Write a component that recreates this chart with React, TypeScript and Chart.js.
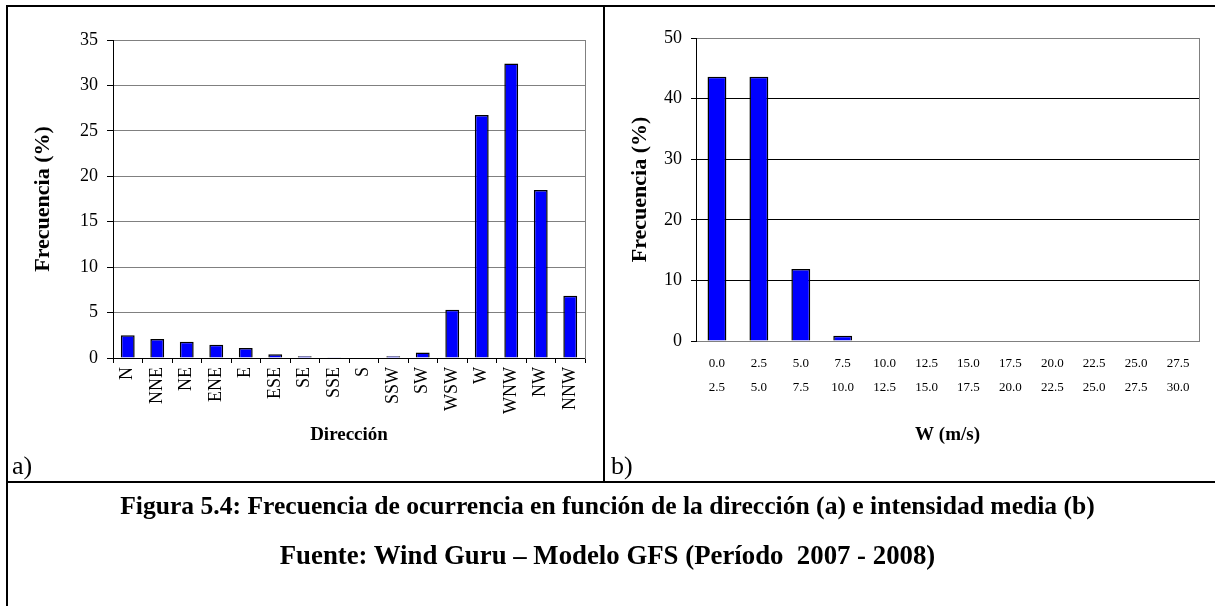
import React, { useEffect, useRef } from "react";
import { Chart, registerables } from "chart.js";

Chart.register(...registerables);

const FONT = "'Liberation Serif', 'Times New Roman', Times, serif";

// Panel a) — frequency by direction
const directions = ["N", "NNE", "NE", "ENE", "E", "ESE", "SE", "SSE", "S", "SSW", "SW", "WSW", "W", "WNW", "NW", "NNW"];
const directionFreq = [2.5, 2.1, 1.8, 1.45, 1.1, 0.4, 0.2, 0.02, 0.0, 0.2, 0.6, 5.3, 26.75, 32.4, 18.5, 6.85];
const directionTicks = [0, 5, 10, 15, 20, 25, 30, 35];

// Panel b) — frequency by mean intensity (speed bins)
const speedBinStart = ["0.0", "2.5", "5.0", "7.5", "10.0", "12.5", "15.0", "17.5", "20.0", "22.5", "25.0", "27.5"];
const speedBinEnd = ["2.5", "5.0", "7.5", "10.0", "12.5", "15.0", "17.5", "20.0", "22.5", "25.0", "27.5", "30.0"];
const speedFreq = [43.6, 43.6, 11.9, 0.87, 0, 0, 0, 0, 0, 0, 0, 0];
const speedTicks = [0, 10, 20, 30, 40, 50];

const BAR_BLUE = "#0000FF";

function makeLeftConfig(): any {
  return {
    type: "bar",
    data: {
      labels: directions,
      datasets: [
        {
          data: directionFreq,
          backgroundColor: BAR_BLUE,
          borderColor: "#000000",
          borderWidth: 1.5,
          barPercentage: 0.47,
          categoryPercentage: 1,
        },
      ],
    },
    options: {
      animation: false,
      responsive: false,
      maintainAspectRatio: false,
      layout: { padding: { left: 0, right: 18, top: 40, bottom: 0 } },
      plugins: { legend: { display: false }, tooltip: { enabled: false } },
      scales: {
        x: {
          offset: true,
          grid: { display: true, drawOnChartArea: false, drawTicks: true, tickLength: 5, color: "#000", offset: true },
          border: { display: true, color: "#000", width: 1 },
          ticks: {
            autoSkip: false,
            minRotation: 90,
            maxRotation: 90,
            padding: 4,
            color: "#000",
            font: { family: FONT, size: 18 },
          },
          title: {
            display: true,
            text: "Dirección",
            color: "#000",
            font: { family: FONT, size: 19, weight: "bold" },
            padding: { top: 0, bottom: 34 },
          },
          afterFit: (s: any) => {
            s.height = 122;
          },
        },
        y: {
          min: 0,
          max: directionTicks[directionTicks.length - 1],
          afterBuildTicks: (s: any) => {
            s.ticks = directionTicks.map((v) => ({ value: v }));
          },
          grid: { color: "#808080", tickColor: "#000", tickLength: 6 },
          border: { display: true, color: "#000", width: 1 },
          ticks: { padding: 9, color: "#000", font: { family: FONT, size: 18 } },
          title: {
            display: true,
            text: "Frecuencia (%)",
            color: "#000",
            font: { family: FONT, size: 22, weight: "bold" },
            padding: { top: 30, bottom: 0 },
          },
          afterFit: (s: any) => {
            s.width = 113;
          },
        },
        frameRight: {
          position: "right",
          display: true,
          grid: { display: true, drawOnChartArea: false, drawTicks: false },
          border: { display: true, color: "#808080", width: 1 },
          ticks: { display: false },
          afterFit: (s: any) => {
            s.width = 0;
          },
        },
      },
    },
  };
}

function makeRightConfig(): any {
  const maxV = speedTicks[speedTicks.length - 1];
  return {
    type: "bar",
    data: {
      labels: speedBinStart.map((a, i) => [a, speedBinEnd[i]]),
      datasets: [
        {
          data: speedFreq,
          backgroundColor: BAR_BLUE,
          borderColor: "#000000",
          borderWidth: 1.5,
          barPercentage: 0.45,
          categoryPercentage: 1,
        },
      ],
    },
    options: {
      animation: false,
      responsive: false,
      maintainAspectRatio: false,
      layout: { padding: { left: 0, right: 16, top: 38, bottom: 0 } },
      plugins: { legend: { display: false }, tooltip: { enabled: false } },
      scales: {
        x: {
          offset: true,
          grid: { display: true, drawOnChartArea: false, drawTicks: false },
          border: { display: true, color: "#808080", width: 1 },
          ticks: {
            autoSkip: false,
            maxRotation: 0,
            minRotation: 0,
            padding: 11,
            color: "#000",
            font: { family: FONT, size: 13, lineHeight: 1.8 },
          },
          title: {
            display: true,
            text: "W (m/s)",
            color: "#000",
            font: { family: FONT, size: 19, weight: "bold" },
            padding: { top: 0, bottom: 34 },
          },
          afterFit: (s: any) => {
            s.height = 139;
          },
        },
        y: {
          min: 0,
          max: maxV,
          afterBuildTicks: (s: any) => {
            s.ticks = speedTicks.map((v) => ({ value: v }));
          },
          grid: {
            color: (ctx: any) =>
              ctx.tick && (ctx.tick.value === maxV || ctx.tick.value === 0) ? "#808080" : "#000000",
            tickColor: "#000",
            tickLength: 5,
          },
          border: { display: true, color: "#000", width: 1 },
          ticks: { padding: 9, color: "#000", font: { family: FONT, size: 18 } },
          title: {
            display: true,
            text: "Frecuencia (%)",
            color: "#000",
            font: { family: FONT, size: 22, weight: "bold" },
            padding: { top: 22, bottom: 0 },
          },
          afterFit: (s: any) => {
            s.width = 91;
          },
        },
        frameRight: {
          position: "right",
          display: true,
          grid: { display: true, drawOnChartArea: false, drawTicks: false },
          border: { display: true, color: "#808080", width: 1 },
          ticks: { display: false },
          afterFit: (s: any) => {
            s.width = 0;
          },
        },
      },
    },
  };
}

function BarPanel({ config, width, height }: { config: () => any; width: number; height: number }) {
  const ref = useRef<HTMLCanvasElement | null>(null);
  useEffect(() => {
    if (!ref.current) return;
    const chart = new Chart(ref.current, config());
    return () => chart.destroy();
  }, []);
  return <canvas ref={ref} width={width} height={height} style={{ display: "block", width, height }} />;
}

const line = (style: React.CSSProperties): React.CSSProperties => ({
  position: "absolute",
  background: "#000",
  ...style,
});

const captionStyle = (top: number, size: number): React.CSSProperties => ({
  position: "absolute",
  left: 0,
  width: 1215,
  top,
  textAlign: "center",
  fontWeight: "bold",
  fontSize: size,
  lineHeight: "28px",
  whiteSpace: "pre",
});

export default function App() {
  return (
    <div
      style={{
        position: "absolute",
        left: 0,
        top: 0,
        width: 1215,
        height: 606,
        overflow: "hidden",
        background: "#fff",
        fontFamily: FONT,
        color: "#000",
      }}
    >
      <div style={{ position: "absolute", left: 0, top: 0 }}>
        <BarPanel config={makeLeftConfig} width={603} height={480} />
      </div>
      <div style={{ position: "absolute", left: 605, top: 0 }}>
        <BarPanel config={makeRightConfig} width={610} height={480} />
      </div>

      {/* frame lines */}
      <div style={line({ left: 6, top: 5, width: 1209, height: 2 })} />
      <div style={line({ left: 6, top: 5, width: 2, height: 601 })} />
      <div style={line({ left: 603, top: 5, width: 2, height: 477 })} />
      <div style={line({ left: 6, top: 481, width: 1209, height: 2 })} />

      {/* panel labels */}
      <div style={{ position: "absolute", left: 12, top: 451, fontSize: 26, lineHeight: "30px" }}>a)</div>
      <div style={{ position: "absolute", left: 611, top: 451, fontSize: 26, lineHeight: "30px" }}>b)</div>

      {/* caption */}
      <div style={captionStyle(492, 25.6)}>
        Figura 5.4: Frecuencia de ocurrencia en función de la dirección (a) e intensidad media (b)
      </div>
      <div style={captionStyle(541, 26.8)}>Fuente: Wind Guru – Modelo GFS (Período  2007 - 2008)</div>
    </div>
  );
}
